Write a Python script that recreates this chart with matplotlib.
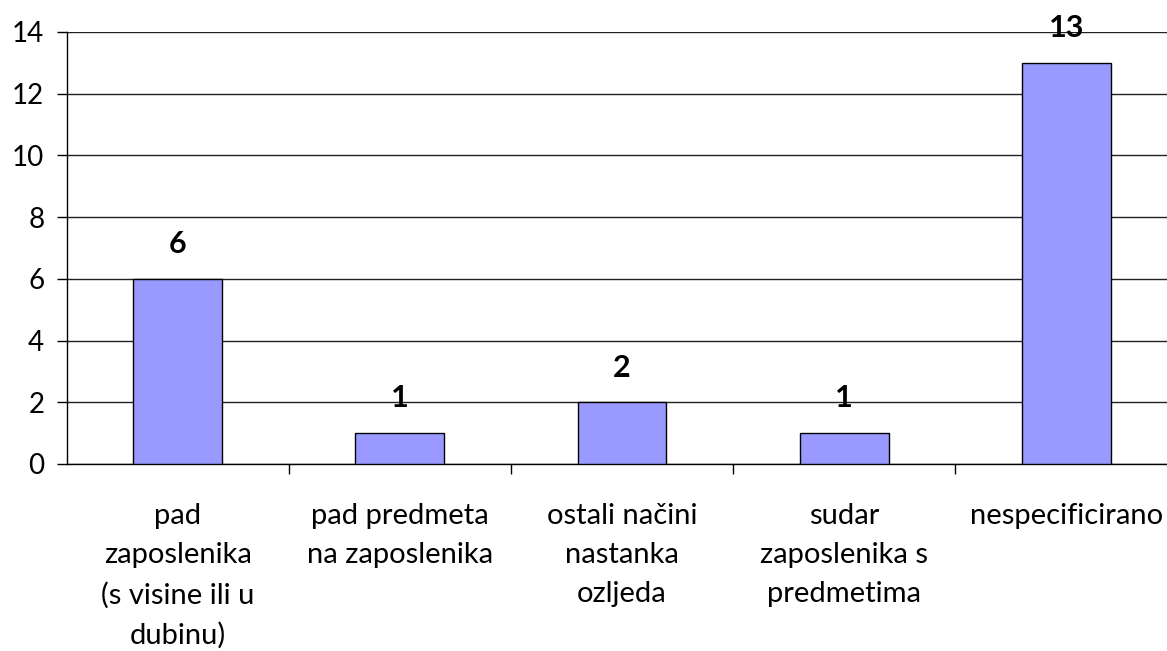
import matplotlib
matplotlib.use("Agg")
import matplotlib.pyplot as plt
import numpy as np

categories = ["pad\nzaposlenika\n(s visine ili u\ndubinu)",
              "pad predmeta\nna zaposlenika",
              "ostali načini\nnastanka\nozljeda",
              "sudar\nzaposlenika s\npredmetima",
              "nespecificirano"]
values = [6, 1, 2, 1, 13]
yticks = [0, 2, 4, 6, 8, 10, 12, 14]

plt.rcParams['font.family'] = ['Lato', 'DejaVu Sans']

fig = plt.figure(figsize=(11.67, 6.51), dpi=100)
ax = fig.add_axes([66.5/1167, 1-464/651, (1177.5-66.5)/1167, 432/651])

x = np.arange(len(categories))
ax.bar(x, values, width=0.4, color='#9999FF', edgecolor='black', linewidth=1.0, zorder=3)

for xi, v in zip(x, values):
    ax.annotate(str(v), (xi, v), xytext=(0, 25), textcoords='offset points',
                ha='center', va='center', fontsize=22, fontweight='bold', zorder=4)

ax.set_xlim(-0.5, len(categories) - 0.5)
ax.set_ylim(0, 14)
ax.set_yticks(yticks)
ax.tick_params(axis='y', labelsize=20, length=7, width=1, pad=9, color='black')
ax.yaxis.grid(True, color='#222222', linewidth=1.0, zorder=0)

ax.set_xticks(x)
ax.set_xticklabels(categories, fontsize=21, linespacing=1.62)
ax.tick_params(axis='x', which='major', length=0, pad=28)
ax.set_xticks(np.arange(len(categories)) + 0.5, minor=True)
ax.tick_params(axis='x', which='minor', length=7, width=1, color='black')

for s in ['top', 'right']:
    ax.spines[s].set_visible(False)
ax.spines['left'].set_linewidth(1.0)
ax.spines['bottom'].set_linewidth(1.0)
ax.set_axisbelow(True)

fig.savefig("out.png", dpi=100)
